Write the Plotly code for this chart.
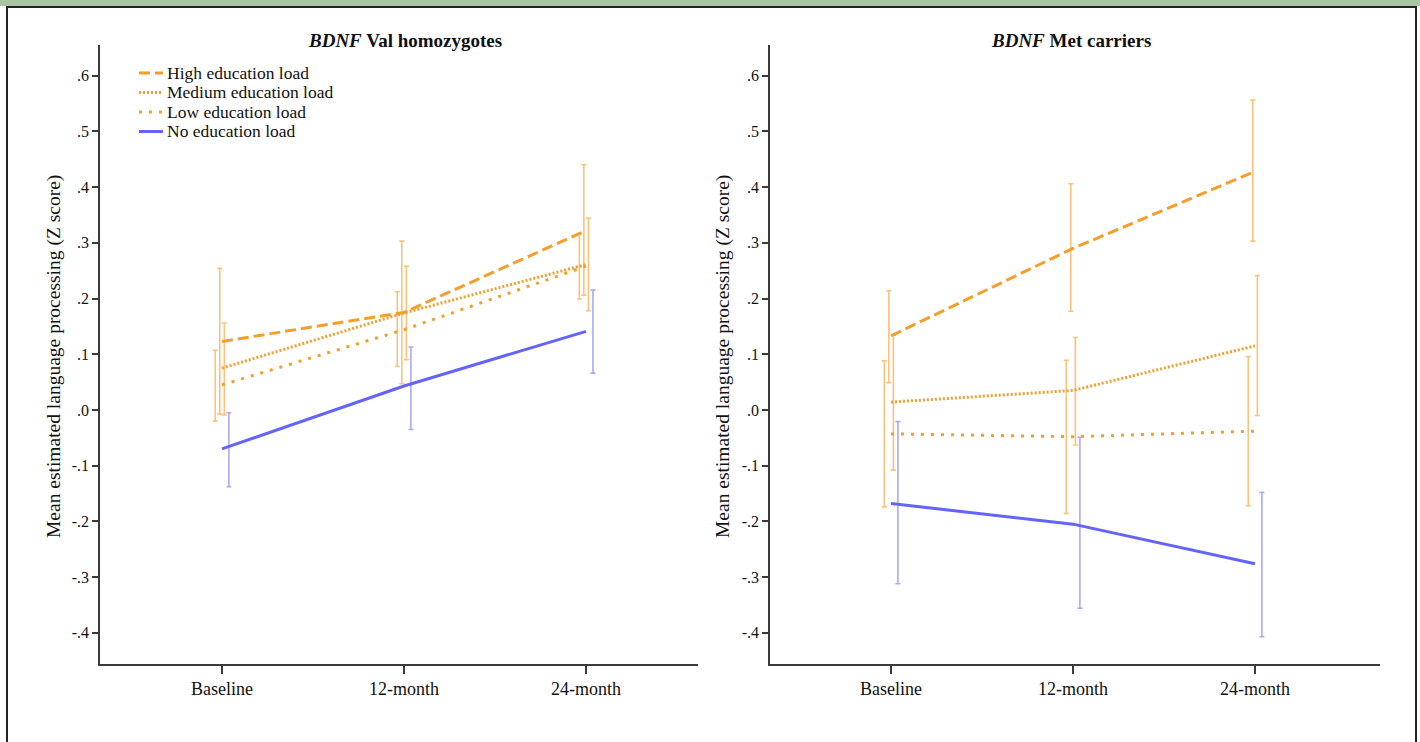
import plotly.graph_objects as go

# ---------------- data ----------------
time_labels = ["Baseline", "12-month", "24-month"]
series_names = ["High education load", "Medium education load",
                "Low education load", "No education load"]

# BDNF Val homozygotes
val_high_mean = [0.123, 0.175, 0.322]
val_high_lo = [-0.007, 0.047, 0.206]
val_high_hi = [0.254, 0.303, 0.440]
val_med_mean = [0.075, 0.174, 0.261]
val_med_lo = [-0.009, 0.090, 0.178]
val_med_hi = [0.156, 0.258, 0.344]
val_low_mean = [0.045, 0.144, 0.258]
val_low_lo = [-0.020, 0.078, 0.199]
val_low_hi = [0.107, 0.212, 0.316]
val_no_mean = [-0.070, 0.043, 0.141]
val_no_lo = [-0.138, -0.035, 0.066]
val_no_hi = [-0.005, 0.113, 0.215]

# BDNF Met carriers
met_high_mean = [0.133, 0.290, 0.428]
met_high_lo = [0.049, 0.177, 0.303]
met_high_hi = [0.214, 0.406, 0.556]
met_med_mean = [0.014, 0.035, 0.115]
met_med_lo = [-0.108, -0.063, -0.010]
met_med_hi = [0.134, 0.130, 0.241]
met_low_mean = [-0.043, -0.048, -0.038]
met_low_lo = [-0.174, -0.186, -0.172]
met_low_hi = [0.088, 0.089, 0.096]
met_no_mean = [-0.168, -0.205, -0.276]
met_no_lo = [-0.312, -0.356, -0.407]
met_no_hi = [-0.021, -0.049, -0.148]

y_tick_vals = [0.6, 0.5, 0.4, 0.3, 0.2, 0.1, 0.0, -0.1, -0.2, -0.3, -0.4]
y_tick_text = [".6", ".5", ".4", ".3", ".2", ".1", ".0", "-.1", "-.2", "-.3", "-.4"]

panel_titles = ["<b><i>BDNF</i> Val homozygotes</b>", "<b><i>BDNF</i> Met carriers</b>"]
y_title = "Mean estimated language processing (Z score)"

# ---------------- styles ----------------
FONT = "Liberation Serif, Times New Roman, serif"
ORANGE = "#f59e2c"
ORANGE_ERR = "#fcc27c"
BLUE = "#6464fa"
BLUE_ERR = "#a9a9fc"
AXIS = "#3a3a3a"
TEXT = "#111111"

styles = [
    dict(color=ORANGE, err=ORANGE_ERR, dash="11px,5px", width=3, offset=-0.012),
    dict(color=ORANGE, err=ORANGE_ERR, dash="2px,2px", width=3, offset=0.013),
    dict(color=ORANGE, err=ORANGE_ERR, dash="3px,7px", width=3, offset=-0.037),
    dict(color=BLUE, err=BLUE_ERR, dash="solid", width=3, offset=0.038),
]

val_data = [
    (val_high_mean, val_high_lo, val_high_hi),
    (val_med_mean, val_med_lo, val_med_hi),
    (val_low_mean, val_low_lo, val_low_hi),
    (val_no_mean, val_no_lo, val_no_hi),
]
met_data = [
    (met_high_mean, met_high_lo, met_high_hi),
    (met_med_mean, met_med_lo, met_med_hi),
    (met_low_mean, met_low_lo, met_low_hi),
    (met_no_mean, met_no_lo, met_no_hi),
]

W, H = 1420, 742
fig = go.Figure()

xpos = list(range(len(time_labels)))

for panel, (data, xa, ya) in enumerate([(val_data, "x", "y"), (met_data, "x2", "y2")]):
    # error bars first (dodged around each time point)
    for (mean, lo, hi), st, name in zip(data, styles, series_names):
        fig.add_trace(go.Scatter(
            x=[p + st["offset"] for p in xpos], y=mean, mode="markers",
            marker=dict(size=0.1, color="rgba(0,0,0,0)"),
            error_y=dict(type="data", symmetric=False,
                         array=[h - m for h, m in zip(hi, mean)],
                         arrayminus=[m - l for m, l in zip(mean, lo)],
                         color=st["err"], thickness=1.6, width=2.5),
            xaxis=xa, yaxis=ya, showlegend=False, hoverinfo="skip"))
    # mean lines
    for (mean, lo, hi), st, name in zip(data, styles, series_names):
        fig.add_trace(go.Scatter(
            x=xpos, y=mean, mode="lines", name=name,
            line=dict(color=st["color"], dash=st["dash"], width=st["width"]),
            xaxis=xa, yaxis=ya, showlegend=False))


def px_x(v):
    return v / W


def px_y(v):
    return 1 - v / H


y_dom = [px_y(664), px_y(45)]
y_range = [-0.456, 0.655]

axis_common = dict(showline=True, linecolor=AXIS, linewidth=1.6, showgrid=False,
                   zeroline=False, ticks="outside", tickcolor=AXIS, tickwidth=1.6)
xfont = dict(family=FONT, size=18, color=TEXT)
yfont = dict(family=FONT, size=16, color=TEXT)

fig.update_layout(
    width=W, height=H,
    margin=dict(l=0, r=0, t=0, b=0),
    paper_bgcolor="white", plot_bgcolor="white",
    font=dict(family=FONT, color=TEXT),
    showlegend=False,
    xaxis=dict(domain=[px_x(100), px_x(698)], range=[-0.670, 2.615],
               tickvals=xpos, ticktext=time_labels, ticklen=8, tickfont=xfont,
               anchor="y", **axis_common),
    yaxis=dict(domain=y_dom, range=y_range, tickvals=y_tick_vals, ticktext=y_tick_text,
               ticklen=6, tickfont=yfont, anchor="x", **axis_common),
    xaxis2=dict(domain=[px_x(770), px_x(1380)], range=[-0.665, 2.687],
                tickvals=xpos, ticktext=time_labels, ticklen=8, tickfont=xfont,
                anchor="y2", **axis_common),
    yaxis2=dict(domain=y_dom, range=y_range, tickvals=y_tick_vals, ticktext=y_tick_text,
                ticklen=6, tickfont=yfont, anchor="x2", **axis_common),
)

# legend (drawn inside the left panel)
leg_x0, leg_x1, leg_text_x = 139, 163, 165
leg_rows = [73, 92.5, 112, 131.5]
for name, st, yrow in zip(series_names, styles, leg_rows):
    fig.add_shape(type="line", xref="paper", yref="paper",
                  x0=px_x(leg_x0), x1=px_x(leg_x1), y0=px_y(yrow), y1=px_y(yrow),
                  line=dict(color=st["color"], width=st["width"], dash=st["dash"]))
    fig.add_annotation(text=name, x=px_x(leg_text_x), y=px_y(yrow), xref="paper",
                       yref="paper", showarrow=False, xanchor="left", yanchor="middle",
                       font=dict(family=FONT, size=17.5, color=TEXT))

# panel titles
for txt, xc in zip(panel_titles, [405, 1071]):
    fig.add_annotation(text=txt, x=px_x(xc), y=px_y(40), xref="paper", yref="paper",
                       showarrow=False, xanchor="center", yanchor="middle",
                       font=dict(family=FONT, size=19, color=TEXT))

# y-axis titles
for xc in [54, 723]:
    fig.add_annotation(text=y_title, x=px_x(xc), y=px_y(357), xref="paper", yref="paper",
                       showarrow=False, textangle=-90, xanchor="center", yanchor="middle",
                       font=dict(family=FONT, size=19.5, color=TEXT))

# outer frame and green strip
fig.add_shape(type="rect", xref="paper", yref="paper", x0=0, x1=1, y0=px_y(6), y1=1,
              fillcolor="#a9c6a0", line=dict(width=0), layer="below")
fig.add_shape(type="line", xref="paper", yref="paper", x0=px_x(6), x1=px_x(1417),
              y0=px_y(7), y1=px_y(7), line=dict(color="#222", width=2))
fig.add_shape(type="line", xref="paper", yref="paper", x0=px_x(7), x1=px_x(7),
              y0=px_y(7), y1=0, line=dict(color="#222", width=2))
fig.add_shape(type="line", xref="paper", yref="paper", x0=px_x(1416), x1=px_x(1416),
              y0=px_y(7), y1=0, line=dict(color="#222", width=2))

fig.write_html(
    "out.html",
    config={"displayModeBar": False},
    post_script="document.body.style.margin='0';document.body.style.overflow='hidden';",
)
